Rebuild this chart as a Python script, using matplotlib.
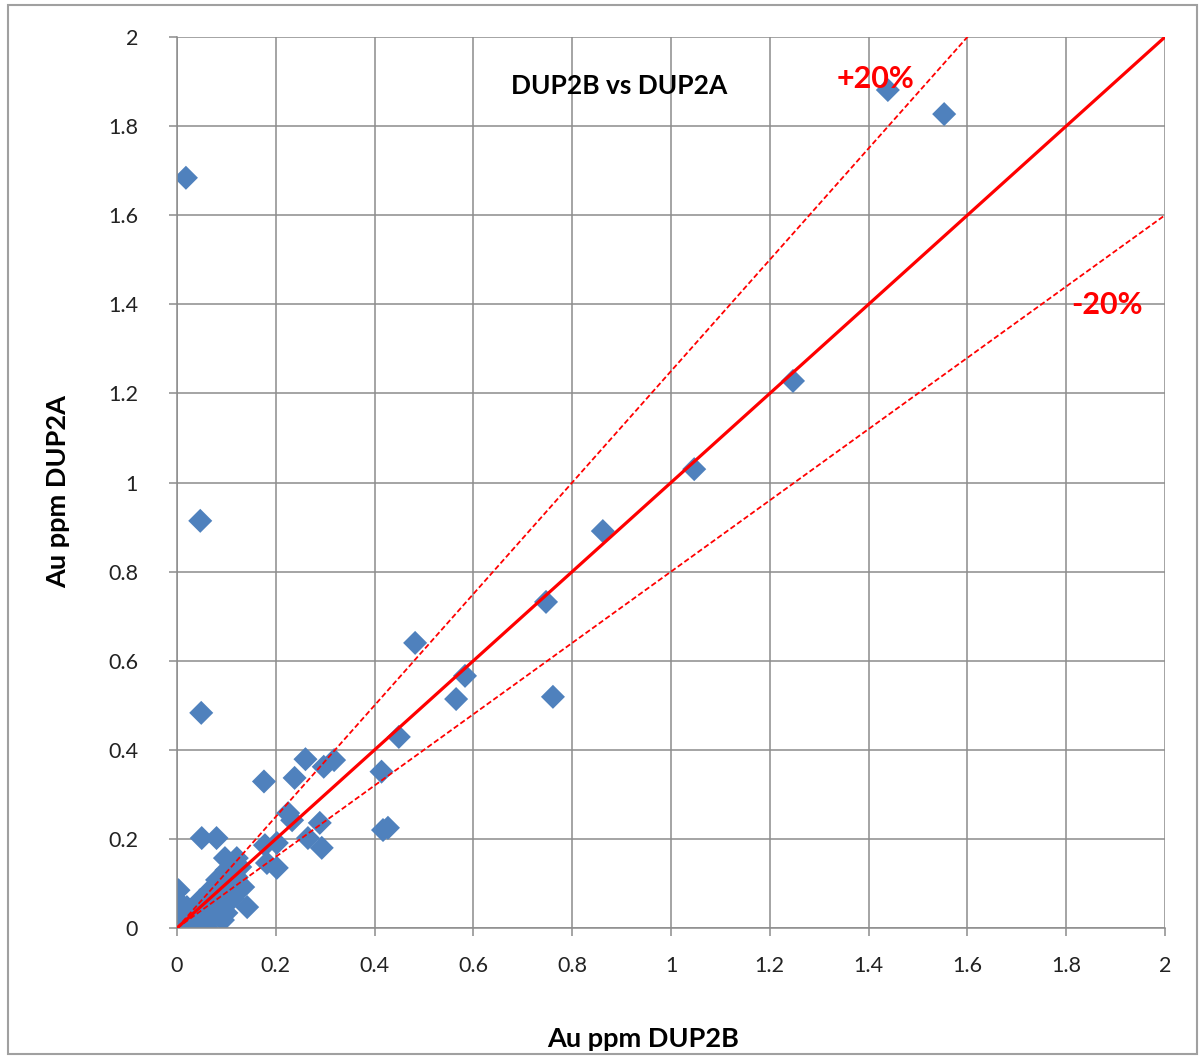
import numpy as np
import matplotlib
matplotlib.use("Agg")
import matplotlib.pyplot as plt
from matplotlib.patches import Rectangle

plt.rcParams['font.family'] = ['Lato', 'DejaVu Sans']

# Au ppm, duplicate B (x) vs duplicate A (y)
dup2b = [0.018, 0.047, 0.049, 1.439, 1.553, 1.247, 1.047, 0.862, 0.747, 0.482,
         0.583, 0.565, 0.761, 0.449, 0.414, 0.417, 0.427, 0.260, 0.297, 0.318,
         0.238, 0.176, 0.225, 0.233, 0.289, 0.265, 0.293, 0.178, 0.202, 0.050,
         0.080, 0.003, 0.097, 0.121, 0.182, 0.202, 0.134, 0.142, 0.113, 0.093,
         0.061, 0.006, 0.020, 0.032, 0.047, 0.067, 0.081, 0.100, 0.121, 0.128,
         0.047, 0.060, 0.032, 0.006, 0.020, 0.073, 0.100, 0.087, 0.113, 0.002,
         0.010, 0.040, 0.090, 0.055]
dup2a = [1.684, 0.914, 0.483, 1.881, 1.827, 1.228, 1.030, 0.891, 0.732, 0.640,
         0.566, 0.514, 0.519, 0.429, 0.351, 0.220, 0.225, 0.379, 0.362, 0.377,
         0.337, 0.329, 0.258, 0.242, 0.236, 0.202, 0.180, 0.186, 0.191, 0.202,
         0.202, 0.085, 0.157, 0.157, 0.146, 0.135, 0.092, 0.047, 0.067, 0.018,
         0.056, 0.011, 0.025, 0.040, 0.063, 0.085, 0.108, 0.130, 0.114, 0.137,
         0.011, 0.002, 0.002, 0.056, 0.047, 0.025, 0.034, 0.063, 0.085, 0.002,
         0.030, 0.020, 0.045, 0.035]

ticks = [0, 0.2, 0.4, 0.6, 0.8, 1, 1.2, 1.4, 1.6, 1.8, 2]
tick_labels = ['0', '0.2', '0.4', '0.6', '0.8', '1', '1.2', '1.4', '1.6', '1.8', '2']

fig = plt.figure(figsize=(12.01, 10.57), dpi=100)
fig.patches.append(Rectangle((0.007, 0.003), 0.99, 0.992, transform=fig.transFigure,
                             fill=False, edgecolor='#a0a0a0', linewidth=1.5))
ax = fig.add_axes([0.1474, 0.122, 0.8226, 0.843])

line = np.array([0, 2])
ax.plot(line, line, color='#ff0000', linewidth=2.3, zorder=3)
ax.plot(line, line * 1.25, color='#ff0000', linewidth=1.3, linestyle=(0, (3, 1.5)), zorder=3)
ax.plot(line, line * 0.8, color='#ff0000', linewidth=1.3, linestyle=(0, (3, 1.5)), zorder=3)

ax.scatter(dup2b, dup2a, marker='D', s=150, color='#4f81bd', edgecolors='none', zorder=2)

ax.set_xlim(0, 2)
ax.set_ylim(0, 2)
ax.set_xticks(ticks)
ax.set_xticklabels(tick_labels)
ax.set_yticks(ticks)
ax.set_yticklabels(tick_labels)
ax.grid(True, color='#8c8c8c', linewidth=1.1)
ax.set_axisbelow(True)
for s in ['top', 'right']:
    ax.spines[s].set_visible(False)
for s in ['left', 'bottom']:
    ax.spines[s].set_color('#8c8c8c')
    ax.spines[s].set_linewidth(1.1)
ax.tick_params(axis='both', colors='#8c8c8c', labelcolor='#222222', labelsize=15.5,
               length=6, width=1.1, direction='out')
ax.tick_params(axis='x', pad=14)
ax.tick_params(axis='y', pad=22)

ax.text(0.895, 1.89, 'DUP2B vs DUP2A', fontsize=19, fontweight='bold', ha='center', va='center')
ax.text(1.415, 1.905, '+20%', fontsize=22, fontweight='bold', color='#ff0000', ha='center', va='center')
ax.text(1.883, 1.398, '-20%', fontsize=22, fontweight='bold', color='#ff0000', ha='center', va='center')

ax.set_xlabel('Au ppm DUP2B', fontsize=19.5, fontweight='bold')
ax.set_ylabel('Au ppm DUP2A', fontsize=19.5, fontweight='bold')
ax.xaxis.set_label_coords(0.472, -0.111)
ax.yaxis.set_label_coords(-0.108, 0.49)

fig.savefig('out.png', dpi=100)
